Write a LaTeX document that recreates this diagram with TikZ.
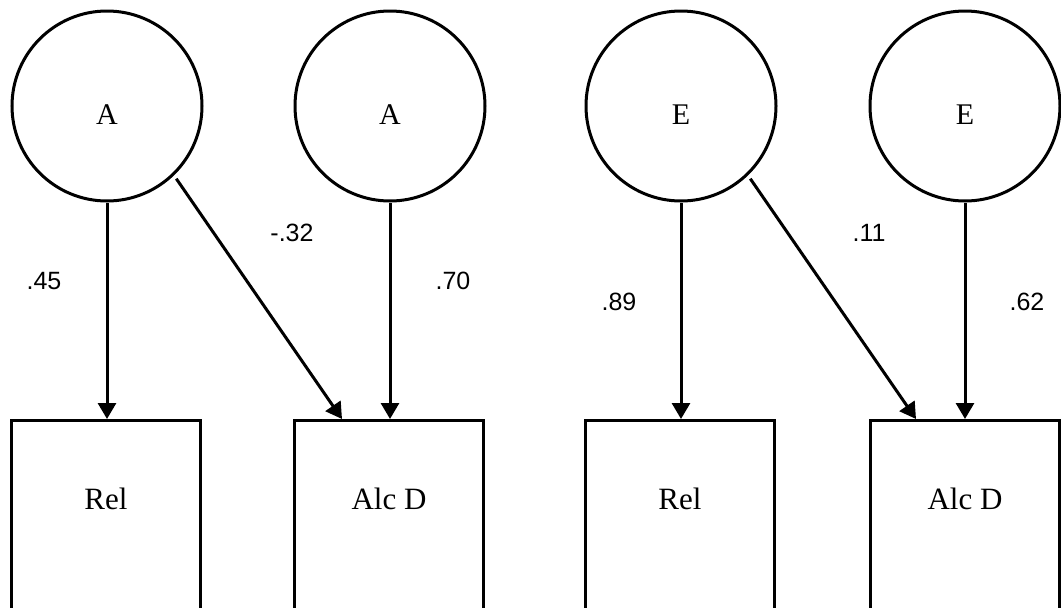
\documentclass[tikz,border=0pt]{standalone}
\usepackage{fontspec}
\setmainfont{Liberation Serif}
\newfontfamily\numfont{Liberation Sans}
\usetikzlibrary{arrows.meta,calc}
\tikzset{
  lat/.style={draw, circle, line width=3pt, minimum size=190pt, inner sep=0pt,
    font=\fontsize{30}{30}\selectfont, text height=36pt, text depth=0pt},
  obs/.style={draw, rectangle, line width=3pt, minimum width=189pt, inner sep=0pt,
    font=\fontsize{31}{31}\selectfont, text height=89pt, text depth=160pt, anchor=north},
  path/.style={line width=3pt, -{Triangle[width=18pt,length=16pt]}},
  coef/.style={font=\numfont\fontsize{25}{25}\selectfont, inner sep=0pt}
}
\begin{document}
\begin{tikzpicture}[x=1pt,y=-1pt]
\useasboundingbox (0,0) rectangle (1061,608);
\clip (0,0) rectangle (1061,608);
\node[lat] (c1) at (107,106) {A};
\node[lat] (c2) at (390,106) {A};
\node[lat] (c3) at (681,106) {E};
\node[lat] (c4) at (965,106) {E};
\node[obs] (b1) at (106,419) {Rel};
\node[obs] (b2) at (389,419) {Alc D};
\node[obs] (b3) at (680,419) {Rel};
\node[obs] (b4) at (965,419) {Alc D};
\coordinate (e2) at ($(b2.north west)+(49,0)$);
\coordinate (e4) at ($(b4.north west)+(47,0)$);
\draw[path] (c1.south) -- (c1.south |- b1.north);
\draw[path] (c2.south) -- (c2.south |- b2.north);
\draw[path] (c3.south) -- (c3.south |- b3.north);
\draw[path] (c4.south) -- (c4.south |- b4.north);
\draw[path, shorten <=4pt] (c1.-46) -- (e2);
\draw[path, shorten <=4pt] (c3.-46) -- (e4);
\node[coef] (l1) at (44,281) {.45};
\node[coef] (l2) at (292,233) {-.32};
\node[coef] (l3) at (453,281) {.70};
\node[coef] (l4) at (619,302) {.89};
\node[coef] (l5) at (869,233) {.11};
\node[coef] (l6) at (1027,302) {.62};
\end{tikzpicture}
\end{document}
